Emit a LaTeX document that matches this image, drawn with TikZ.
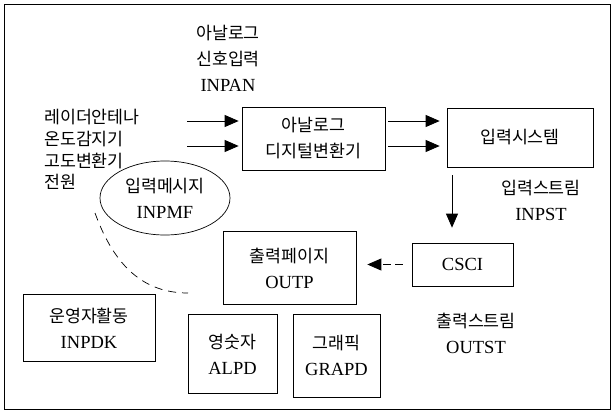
\documentclass[tikz,border=0pt]{standalone}
\usepackage{fontspec}
\setmainfont{Liberation Serif}
\newfontfamily\kr{Noto Sans CJK KR}
\newcommand\K[1]{{\kr\fontsize{17.3}{26}\selectfont #1}}
\usetikzlibrary{arrows.meta,shapes.geometric}
\tikzset{
  base/.style={font=\fontsize{18.5}{26}\selectfont, align=center, inner sep=0pt},
  boxnode/.style={base, draw, line width=0.7pt},
  txt/.style={base},
  arr/.style={line width=0.8pt, -{Triangle[length=14pt,width=12pt]}},
}
\begin{document}
\begin{tikzpicture}[x=1pt,y=-1pt]
\useasboundingbox (0,0) rectangle (612,412);
\draw[line width=0.8pt] (4,4) rectangle (610,409);

% boxes
\node[boxnode, minimum width=143pt, minimum height=63pt] (adc) at (313.5,138.5) {\K{아날로그}\\\K{디지털변환기}};
\node[boxnode, minimum width=146pt, minimum height=59pt] (insys) at (520,137.5) {\K{입력시스템}};
\node[boxnode, minimum width=101pt, minimum height=43pt] (csci) at (462.5,264.5) {CSCI};
\node[boxnode, minimum width=133pt, minimum height=73pt] (outp) at (289.5,268) {\K{출력페이지}\\OUTP};
\node[boxnode, minimum width=132pt, minimum height=67pt] (inpdk) at (89,328) {\K{운영자활동}\\INPDK};
\node[boxnode, minimum width=89pt, minimum height=79pt] (alpd) at (232.5,354) {\K{영숫자}\\ALPD};
\node[boxnode, minimum width=87pt, minimum height=83pt] (grapd) at (336.5,355.5) {\K{그래픽}\\GRAPD};
\node[base, draw, ellipse, line width=0.7pt, minimum width=130pt, minimum height=74pt] (inpmf) at (165,198) {\K{입력메시지}\\INPMF};

% free texts
\node[txt] (inpan) at (228,58.5) {\K{아날로그}\\\K{신호입력}\\INPAN};
\node[txt, anchor=west, font=\kr\fontsize{17.3}{21.7}\selectfont, align=left] (srcs) at (44,149.5) {레이더안테나\\온도감지기\\고도변환기\\전원};
\node[txt] (inpst) at (541,200) {\K{입력스트림}\\INPST};
\node[txt] (outst) at (476,333) {\K{출력스트림}\\OUTST};

% connectors
\coordinate (s1) at (187,121);
\coordinate (s2) at (187,146);
\draw[arr, shorten >=3pt] (s1) -- (s1 -| adc.west);
\draw[arr, shorten >=3pt] (s2) -- (s2 -| adc.west);
\draw[arr, shorten <=3pt, shorten >=7pt] (adc.east |- s1) -- (insys.west |- s1);
\draw[arr, shorten <=3pt, shorten >=7pt] (adc.east |- s2) -- (insys.west |- s2);
\draw[arr, shorten <=8pt, shorten >=15pt] (insys.south -| 452,0) -- (csci.north -| 452,0);
\draw[line width=0.8pt, dash pattern=on 8pt off 4pt, -{Triangle[length=14pt,width=12pt]}, shorten <=9pt, shorten >=11pt] (csci.west) -- (outp.east |- csci.west);
\coordinate (d1) at (95,213);
\coordinate (d2) at (188,293);
\draw[line width=0.7pt, dash pattern=on 8pt off 6pt] (d1) .. controls (115,268) and (145,293) .. (d2);
\end{tikzpicture}
\end{document}
